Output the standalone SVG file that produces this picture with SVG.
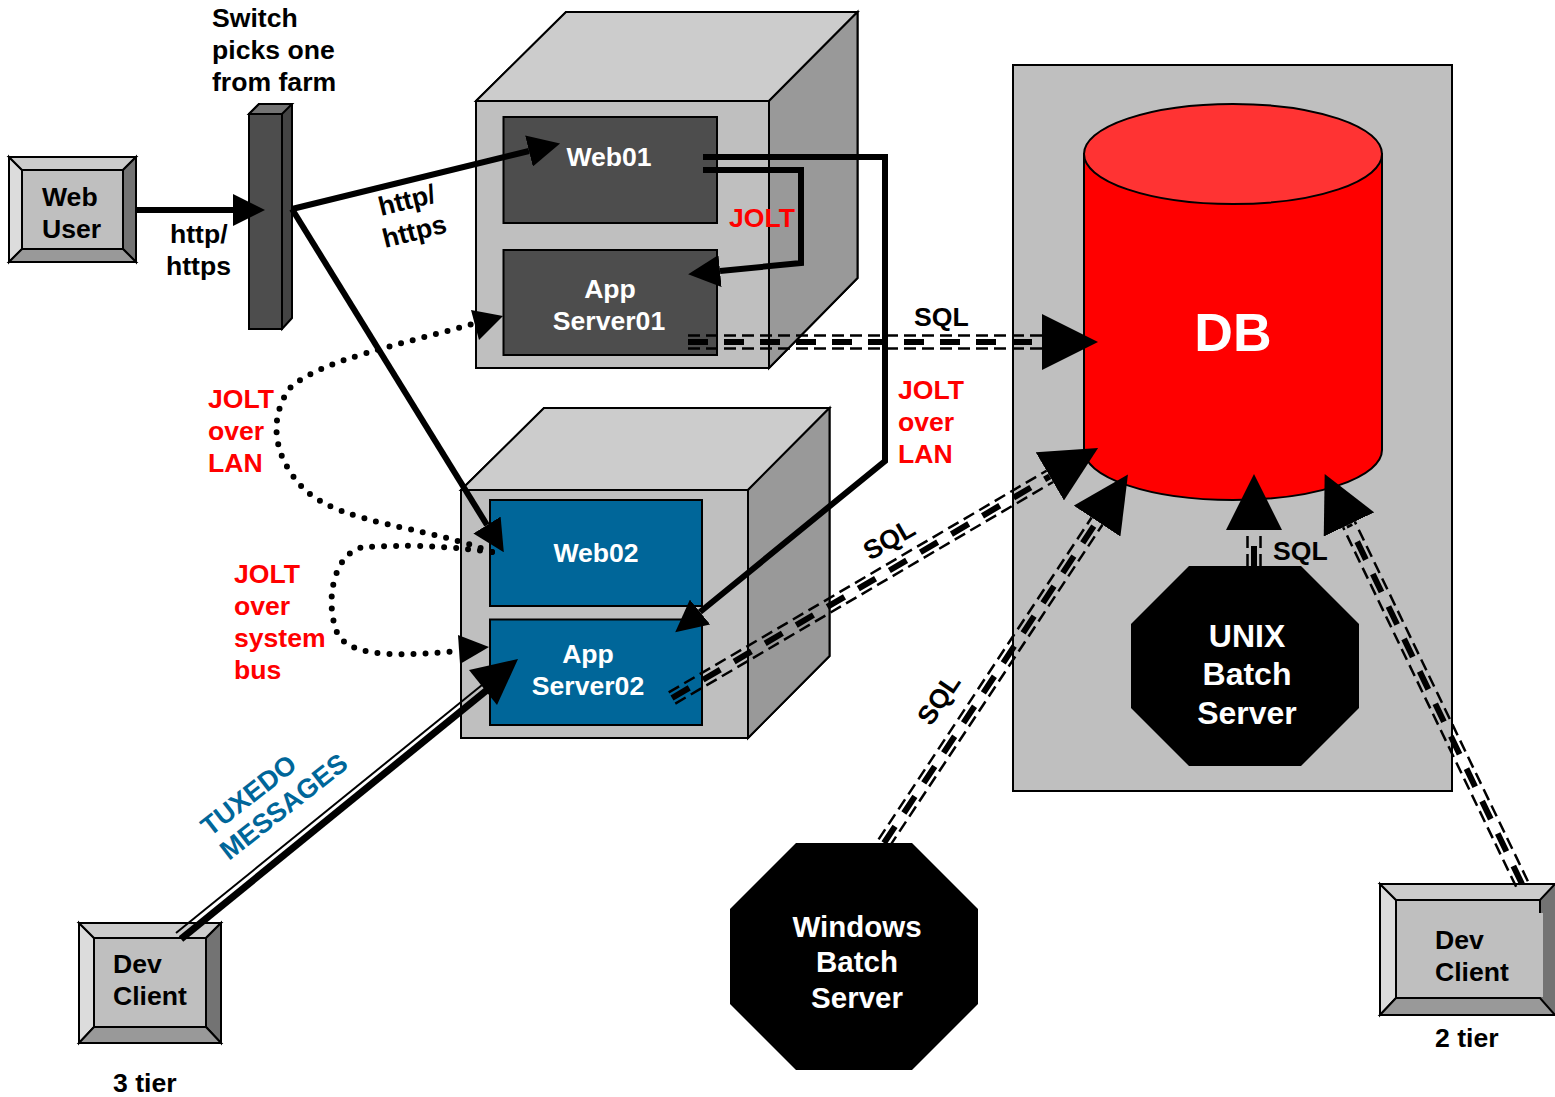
<svg xmlns="http://www.w3.org/2000/svg" width="1555" height="1097" viewBox="0 0 1555 1097">
<style>
text{font-family:"Liberation Sans",Arial,sans-serif;font-weight:700;font-size:26.6px;fill:#000}
.w{fill:#fff}.r{fill:#f00}.b{fill:#006699}
.s{stroke:#000;stroke-width:2;stroke-linejoin:miter}
.k{fill:none;stroke:#000;stroke-width:6;stroke-linejoin:miter}
.d{fill:none;stroke:#000;stroke-width:6;stroke-linecap:round;stroke-dasharray:0 12}
.o{stroke:#000;stroke-width:2.5;stroke-dasharray:12 6;fill:none}
.c{stroke:#000;stroke-width:6;stroke-dasharray:20 16;fill:none}
</style>
<defs>
<marker id="a" markerUnits="userSpaceOnUse" markerWidth="32" markerHeight="32" refX="0" refY="16" orient="auto"><path d="M0,0L32,16L0,32z" fill="#000"/></marker>
<marker id="g" markerUnits="userSpaceOnUse" markerWidth="56" markerHeight="56" refX="0" refY="28" orient="auto"><path d="M0,0L56,28L0,56z" fill="#000"/></marker>
</defs>

<g id="web-user">
<rect x="9" y="157" width="127" height="105" fill="#bfbfbf" class="s"/>
<path d="M9,157L22,170V249L9,262z" fill="#dcdcdc" class="s"/>
<path d="M9,157H136L123,170H22z" fill="#cccccc" class="s"/>
<path d="M136,157V262L123,249V170z" fill="#737373" class="s"/>
<path d="M9,262H136L123,249H22z" fill="#999999" class="s"/>
<text x="42" y="206">Web</text><text x="42" y="238">User</text>
</g>
<g id="switch">
<path d="M249,114L259,104H292V318L282,329z" fill="#444444" class="s"/>
<path d="M249,114L259,104H292L282,114z" fill="#737373" class="s"/>
<rect x="249" y="114" width="33" height="215" fill="#4d4d4d" class="s"/>
</g>
<g id="server-box-1">
<path d="M476,101L566,12H857.500V278L769,368H476z" fill="#bfbfbf" class="s"/>
<path d="M476,101L566,12H857.500L769,101z" fill="#cccccc" class="s"/>
<path d="M769,101L857.500,12V278L769,368z" fill="#999999" class="s"/>
</g>
<g id="web01"><rect x="503.500" y="117" width="213.500" height="106" fill="#4d4d4d" class="s"/><text class="w" x="609" y="166" text-anchor="middle">Web01</text></g>
<g id="app-server01"><rect x="503.500" y="250" width="213.500" height="105" fill="#4d4d4d" class="s"/><text class="w" x="610" y="298" text-anchor="middle">App</text><text class="w" x="609" y="330" text-anchor="middle">Server01</text></g>
<g id="server-box-2">
<path d="M461,490L544,408H829.500V656L748,738H461z" fill="#bfbfbf" class="s"/>
<path d="M461,490L544,408H829.500L748,490z" fill="#cccccc" class="s"/>
<path d="M748,490L829.500,408V656L748,738z" fill="#999999" class="s"/>
</g>
<g id="web02"><rect x="490" y="500" width="212" height="106" fill="#006699" class="s"/><text class="w" x="596" y="562" text-anchor="middle">Web02</text></g>
<g id="app-server02"><rect x="490" y="619.500" width="212" height="105.500" fill="#006699" class="s"/><text class="w" x="588" y="663" text-anchor="middle">App</text><text class="w" x="588" y="695" text-anchor="middle">Server02</text></g>
<g id="db-panel"><rect x="1013" y="65" width="439" height="726" fill="#bfbfbf" class="s"/></g>
<g id="db">
<path d="M1084,154V450A149,50 0 0 0 1382,450V154z" fill="#f00" class="s"/>
<ellipse cx="1233" cy="154" rx="149" ry="50" fill="#ff3333" class="s"/>
<text class="w" x="1233" y="351" text-anchor="middle" style="font-size:53.500px">DB</text>
</g>
<g id="unix-batch">
<path d="M1189,566H1301L1359,624V708L1301,766H1189L1131,708V624z" fill="#000"/>
<text class="w" x="1247" y="647" text-anchor="middle" style="font-size:32px">UNIX</text><text class="w" x="1247" y="685" text-anchor="middle" style="font-size:32px">Batch</text><text class="w" x="1247" y="724" text-anchor="middle" style="font-size:32px">Server</text>
</g>
<g id="windows-batch">
<path d="M796,843H912L978,909V1004L912,1070H796L730,1004V909z" fill="#000"/>
<text class="w" x="857" y="937" text-anchor="middle" style="font-size:29.500px">Windows</text><text class="w" x="857" y="972" text-anchor="middle" style="font-size:29.500px">Batch</text><text class="w" x="857" y="1008" text-anchor="middle" style="font-size:29.500px">Server</text>
</g>
<g id="dev-client-3tier">
<rect x="79" y="923" width="142" height="120" fill="#bfbfbf" class="s"/>
<path d="M79,923L94,938V1027L79,1043z" fill="#dcdcdc" class="s"/>
<path d="M79,923H221L206,938H94z" fill="#cccccc" class="s"/>
<path d="M221,923V1043L206,1027V938z" fill="#737373" class="s"/>
<path d="M79,1043H221L206,1027H94z" fill="#999999" class="s"/>
<text x="113" y="973">Dev</text><text x="113" y="1005">Client</text>
</g>
<g id="dev-client-2tier">
<rect x="1380" y="884" width="175" height="131" fill="#bfbfbf" class="s"/>
<path d="M1380,884L1396,900V998L1380,1015z" fill="#dcdcdc" class="s"/>
<path d="M1555,884V1015L1540,998V900z" fill="#737373"/>
<path d="M1380,884H1555L1540,900H1396z" fill="#cccccc" class="s"/>
<path d="M1380,1015H1555L1540,998H1396z" fill="#999999" class="s"/>
<path d="M1540,900V913" fill="none" class="s"/>
<rect x="1539" y="913" width="4" height="84" fill="#bfbfbf"/>
<text x="1435" y="949">Dev</text><text x="1435" y="981">Client</text>
</g>

<g id="connectors">
<line x1="136" y1="210" x2="233" y2="210" class="k" marker-end="url(#a)"/>
<line x1="292" y1="209" x2="529" y2="151" class="k" marker-end="url(#a)"/>
<line x1="292" y1="209" x2="487" y2="525" class="k" marker-end="url(#a)"/>
<path d="M703,157H885V461L700,612" class="k" marker-end="url(#a)"/>
<path d="M703,170H801V263L720,271" class="k" marker-end="url(#a)"/>
<path d="M492,552C420,525 345,525 305,490C270,455 270,415 290,388C320,360 400,345 472,324" class="d"/>
<path d="M503,316L471,310L479,340z" fill="#000"/>
<path d="M492,552C440,545 400,545 365,547C335,550 323,600 338,635C355,660 410,655 460,651" class="d"/>
<path d="M489,647L458,635L460,664z" fill="#000"/>
<g id="tuxedo">
<line x1="176" y1="933" x2="482" y2="685" stroke="#000" stroke-width="2"/>
<line x1="181" y1="939" x2="487" y2="690" stroke="#000" stroke-width="7"/>
<path d="M518,659L469,670L497,705z" fill="#000"/>
</g>
<g id="sql-app01" transform="translate(688,342)"><line x2="354" y1="-6.500" y2="-6.500" class="o"/><line x2="354" y1="6.500" y2="6.500" class="o"/><line x2="354" class="c" marker-end="url(#g)"/></g>
<g id="sql-app02" transform="translate(672,698) rotate(-30.4)"><line x2="438" y1="-6.500" y2="-6.500" class="o"/><line x2="438" y1="6.500" y2="6.500" class="o"/><line x2="438" class="c" marker-end="url(#g)"/></g>
<g id="sql-windows" transform="translate(884,843) rotate(-56.5)"><line x2="386" y1="-6.500" y2="-6.500" class="o"/><line x2="386" y1="6.500" y2="6.500" class="o"/><line x2="386" class="c" marker-end="url(#g)"/></g>
<g id="sql-unix" transform="translate(1254,566) rotate(-90)"><line x2="36" y1="-6.500" y2="-6.500" class="o"/><line x2="36" y1="6.500" y2="6.500" class="o"/><line x2="36" class="c" marker-end="url(#g)"/></g>
<g id="sql-dev" transform="translate(1522,884) rotate(-115.7)"><line x2="399" y1="-6.500" y2="-6.500" class="o"/><line x2="399" y1="6.500" y2="6.500" class="o"/><line x2="399" class="c" marker-end="url(#g)"/></g>
</g>

<g id="labels">
<text x="212" y="27">Switch</text><text x="212" y="59">picks one</text><text x="212" y="91">from farm</text>
<text x="170" y="243">http/</text><text x="166" y="275">https</text>
<text transform="translate(381,216) rotate(-14)">http/</text><text transform="translate(385,248) rotate(-14)">https</text>
<text class="r" x="729" y="227">JOLT</text>
<text x="914" y="326">SQL</text>
<text class="r" x="898" y="399">JOLT</text><text class="r" x="898" y="431">over</text><text class="r" x="898" y="463">LAN</text>
<text class="r" x="208" y="408">JOLT</text><text class="r" x="208" y="440">over</text><text class="r" x="208" y="472">LAN</text>
<text class="r" x="234" y="583">JOLT</text><text class="r" x="234" y="615">over</text><text class="r" x="234" y="647">system</text><text class="r" x="234" y="679">bus</text>
<text transform="translate(870,561) rotate(-30)">SQL</text>
<text transform="translate(931,727) rotate(-56)">SQL</text>
<text x="1273" y="560">SQL</text>
<text class="b" transform="translate(210,837) rotate(-38)" style="font-size:27px">TUXEDO</text>
<text class="b" transform="translate(229,861) rotate(-38)" style="font-size:27px">MESSAGES</text>
<text x="113" y="1092">3 tier</text>
<text x="1435" y="1047">2 tier</text>
</g>
</svg>
